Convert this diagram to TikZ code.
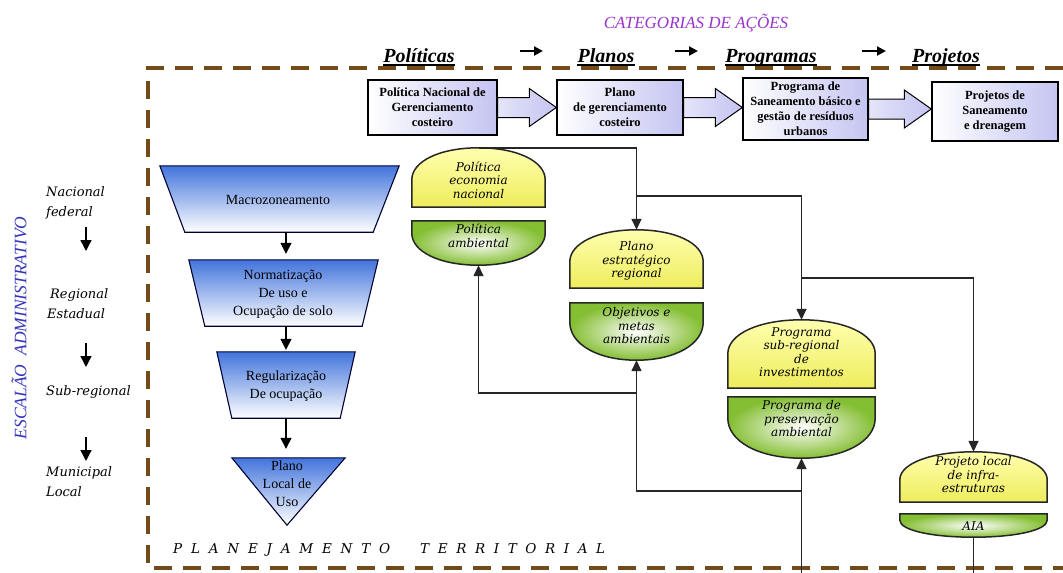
\documentclass[tikz,border=0pt]{standalone}
\usepackage{fontspec}
\setmainfont{Liberation Serif}
\newfontfamily\scriptserif{DejaVu Serif}
\usetikzlibrary{arrows.meta,calc,backgrounds}

\definecolor{framebrown}{RGB}{115,75,25}
\definecolor{catpurple}{RGB}{153,51,204}
\definecolor{escblue}{RGB}{51,51,187}
\definecolor{lavender}{RGB}{196,196,242}
\definecolor{fblue}{RGB}{66,116,220}
\definecolor{yelA}{RGB}{255,255,175}
\definecolor{yelB}{RGB}{238,236,92}
\definecolor{grnOut}{RGB}{132,190,50}

% rounded cap on top of a node box (#2 = height of the curved part)
\newcommand{\domeshape}[2]{%
  (#1.south west) -- ($(#1.north west)+(0,#2)$)
  .. controls ($(#1.north west)+(0,0.42*#2)$) and ($(#1.north west)!0.42!(#1.north)$) .. (#1.north)
  .. controls ($(#1.north east)!0.42!(#1.north)$) and ($(#1.north east)+(0,0.42*#2)$) .. ($(#1.north east)+(0,#2)$)
  -- (#1.south east) -- cycle}
% rounded bowl below a node box
\newcommand{\bowlshape}[2]{%
  (#1.north west) -- ($(#1.south west)-(0,#2)$)
  .. controls ($(#1.south west)-(0,0.42*#2)$) and ($(#1.south west)!0.42!(#1.south)$) .. (#1.south)
  .. controls ($(#1.south east)!0.42!(#1.south)$) and ($(#1.south east)-(0,0.42*#2)$) .. ($(#1.south east)-(0,#2)$)
  -- (#1.north east) -- cycle}
% wide block arrow between two boxes
\newcommand{\blockarrow}[2]{%
  \shadedraw[blockarr] let \p1=(#1.east), \p2=(#2.west) in
    (\x1,\y1+10pt) -- (\x2-27pt,\y1+10pt) -- (\x2-27pt,\y1+19pt) -- (\x2,\y1)
    -- (\x2-27pt,\y1-19pt) -- (\x2-27pt,\y1-10pt) -- (\x1,\y1-10pt) -- cycle;}

\tikzset{
  frame/.style={draw=framebrown, line width=3.5pt, dash pattern=on 18pt off 11pt},
  cattitle/.style={text=catpurple, font=\fontsize{17}{20}\selectfont\itshape, inner sep=0pt},
  hdr/.style={font=\fontsize{20}{24}\selectfont\bfseries\itshape, inner sep=0pt},
  uline/.style={line width=1.1pt},
  hdrarrow/.style={line width=2pt, -{Triangle[length=9pt,width=9pt]}},
  catbox/.style={rectangle, draw=black, line width=1.4pt, left color=white, right color=lavender,
    inner sep=0pt, align=center, font=\fontsize{12.5}{15}\selectfont\bfseries},
  blockarr/.style={draw=black, line width=1pt, left color=lavender!45!white, right color=lavender},
  level/.style={font=\scriptserif\itshape\fontsize{13}{20}\selectfont, align=left, anchor=west, inner sep=0pt},
  esc/.style={text=escblue, font=\fontsize{17.5}{20}\selectfont\itshape, rotate=90, inner sep=0pt},
  plan/.style={font=\scriptserif\itshape\fontsize{13.5}{16}\selectfont, anchor=west, inner sep=0pt},
  downarr/.style={line width=1.4pt, -{Triangle[length=11pt,width=11pt]}},
  zone/.style={rectangle, inner sep=0pt},
  funnelfill/.style={draw=black!80!blue, line width=1.1pt, top color=fblue, bottom color=white},
  ftext/.style={font=\fontsize{14}{18}\selectfont, align=center, inner sep=0pt},
  yellowfill/.style={draw=black!85, line width=1.5pt, top color=yelA, bottom color=yelB},
  greenfill/.style={draw=black!85, line width=1.5pt, inner color=white, outer color=grnOut},
  btext/.style={font=\scriptserif\itshape\fontsize{12}{13.5}\selectfont, align=center, inner sep=0pt},
  conn/.style={line width=1.5pt, draw=black!85},
  tip/.style={-{Triangle[length=11pt,width=10pt]}},
}

\begin{document}
\begin{tikzpicture}[x=1pt,y=-1pt]
\useasboundingbox (0,0) rectangle (1063,573);

% planning frame
\draw[frame] (1063,68) -- (148,68) -- (148,568) -- (1063,568);

% categories of actions
\node[cattitle] (cat) at (696,23) {CATEGORIAS DE AÇÕES};
\node[hdr, anchor=base] (hpol) at (419,62) {Políticas};
\node[hdr, anchor=base] (hpla) at (606,62) {Planos};
\node[hdr, anchor=base] (hprg) at (771,62) {Programas};
\node[hdr, anchor=base] (hprj) at (946,62) {Projetos};
\foreach \h in {hpol,hpla,hprg,hprj}
  \draw[uline] ([yshift=-3pt]\h.base west) -- ([yshift=-3pt]\h.base east);
\coordinate (ha1) at (520,51); \coordinate (hb1) at (543,51);
\coordinate (ha2) at (675,51); \coordinate (hb2) at (698,51);
\coordinate (ha3) at (862,51); \coordinate (hb3) at (886,51);
\draw[hdrarrow] (ha1) -- (hb1);
\draw[hdrarrow] (ha2) -- (hb2);
\draw[hdrarrow] (ha3) -- (hb3);

% top row of action boxes
\node[catbox, minimum width=129pt, minimum height=55pt] (b1) at (432.5,107.5)
  {Política Nacional de\\Gerenciamento\\costeiro};
\node[catbox, minimum width=126pt, minimum height=55pt] (b2) at (620,107.5)
  {Plano\\de gerenciamento\\costeiro};
\node[catbox, minimum width=125pt, minimum height=62pt] (b3) at (805.5,109)
  {Programa de\\Saneamento básico e\\gestão de resíduos\\urbanos};
\node[catbox, minimum width=126pt, minimum height=59pt] (b4) at (995,111.5)
  {Projetos de\\Saneamento\\e drenagem};
\blockarrow{b1}{b2}
\blockarrow{b2}{b3}
\blockarrow{b3}{b4}

% administrative levels
\node[esc] (esc) at (19,328) {ESCALÃO\hspace{9pt}ADMINISTRATIVO};
\node[level] (nac) at (46,203) {Nacional\\federal};
\node[level] (reg) at (47,304) {\hspace{3pt}Regional\\Estadual};
\node[level] (sub) at (46,392) {Sub-regional};
\node[level] (mun) at (46,482) {Municipal\\Local};
\coordinate (la1) at (86,227); \coordinate (lb1) at (86,251);
\coordinate (la2) at (86,343); \coordinate (lb2) at (86,367);
\coordinate (la3) at (86,437); \coordinate (lb3) at (86,461);
\draw[downarr] (la1) -- (lb1);
\draw[downarr] (la2) -- (lb2);
\draw[downarr] (la3) -- (lb3);

% land-use funnel
\node[zone, minimum width=239pt, minimum height=66pt] (tz1) at (279.5,199) {};
\node[zone, minimum width=189pt, minimum height=66pt] (tz2) at (283.5,293) {};
\node[zone, minimum width=138pt, minimum height=66pt] (tz3) at (286,385) {};
\node[zone, minimum width=113pt, minimum height=67pt] (tri) at (288.5,491.5) {};
\begin{pgfonlayer}{background}
  \shadedraw[funnelfill] (tz1.north west) -- (tz1.north east) -- ($(tz1.south east)+(-26,0)$) -- ($(tz1.south west)+(25,0)$) -- cycle;
  \shadedraw[funnelfill] (tz2.north west) -- (tz2.north east) -- ($(tz2.south east)+(-16,0)$) -- ($(tz2.south west)+(16,0)$) -- cycle;
  \shadedraw[funnelfill] (tz3.north west) -- (tz3.north east) -- ($(tz3.south east)+(-15,0)$) -- ($(tz3.south west)+(15,0)$) -- cycle;
  \shadedraw[funnelfill] (tri.north west) -- (tri.north east) -- ($(tri.south)+(-1.5,0)$) -- cycle;
\end{pgfonlayer}
\node[ftext] (tz1t) at (278,200) {Macrozoneamento};
\node[ftext] (tz2t) at (283,294) {Normatização\\De uso e\\Ocupação de solo};
\node[ftext] (tz3t) at (286,386) {Regularização\\De ocupação};
\node[ftext] (trit) at (287,484) {Plano\\Local de\\Uso};
\draw[downarr, shorten >=6pt] (tz1.south -| tz3.center) -- (tz2.north -| tz3.center);
\draw[downarr, shorten >=2pt] (tz2.south -| tz3.center) -- (tz3.north -| tz3.center);
\draw[downarr, shorten >=9pt] (tz3.south -| tz3.center) -- (tri.north -| tz3.center);

% policy / plan / programme / project stacks
\node[zone, minimum width=133pt, minimum height=59pt] (yA) at (478.5,177.5) {};
\node[zone, minimum width=133pt, minimum height=44pt] (gA) at (478.5,243) {};
\node[zone, minimum width=133pt, minimum height=58pt] (yB) at (636.5,259) {};
\node[zone, minimum width=133pt, minimum height=57pt] (gB) at (636.5,331.5) {};
\node[zone, minimum width=147pt, minimum height=68pt] (yC) at (801.5,354) {};
\node[zone, minimum width=147pt, minimum height=61pt] (gC) at (801.5,427.5) {};
\node[zone, minimum width=147pt, minimum height=50pt] (yD) at (973.5,477) {};
\node[zone, minimum width=147pt, minimum height=23pt] (gD) at (973.5,525.5) {};
\begin{pgfonlayer}{background}
  \shadedraw[yellowfill] \domeshape{yA}{32};
  \shadedraw[greenfill] \bowlshape{gA}{32};
  \shadedraw[yellowfill] \domeshape{yB}{32};
  \shadedraw[greenfill] \bowlshape{gB}{38};
  \shadedraw[yellowfill] \domeshape{yC}{34};
  \shadedraw[greenfill] \bowlshape{gC}{40};
  \shadedraw[yellowfill] \domeshape{yD}{28};
  \shadedraw[greenfill] \bowlshape{gD}{17};
\end{pgfonlayer}
\node[btext] (yAt) at (478.5,180) {Política\\economia\\nacional};
\node[btext] (gAt) at (478.5,236) {Política\\ambiental};
\node[btext] (yBt) at (636.5,261) {Plano\\estratégico\\regional};
\node[btext] (gBt) at (636.5,326) {Objetivos e\\metas\\ambientais};
\node[btext] (yCt) at (801.5,352) {Programa\\sub-regional\\de\\investimentos};
\node[btext] (gCt) at (801.5,419) {Programa de\\preservação\\ambiental};
\node[btext] (yDt) at (973.5,475) {Projeto local\\de infra-\\estruturas};
\node[btext] (gDt) at (973.5,526) {AIA};

% top-down links
\draw[conn, tip] (yA.north) -| (yB.north);
\draw[conn, tip] (yB.north |- 0,196) -| (yC.north);
\draw[conn, tip] (yC.north |- 0,278) -| (yD.north);
% bottom-up links
\coordinate (outD) at (973.5,573);
\coordinate (inC) at (801.5,573);
\draw[conn] (gD.south) -- (outD);
\draw[conn, tip] (inC) -- (gC.south);
\draw[conn, tip] (gC.south |- 0,491) -| (gB.south);
\draw[conn, tip] (gB.south |- 0,393) -| (gA.south);

% territorial planning caption
\node[plan] (planT) at (173,550)
  {\makebox[217pt][s]{P L A N E J A M E N T O}\hspace{30pt}\makebox[185pt][s]{T E R R I T O R I A L}};
\end{tikzpicture}
\end{document}
